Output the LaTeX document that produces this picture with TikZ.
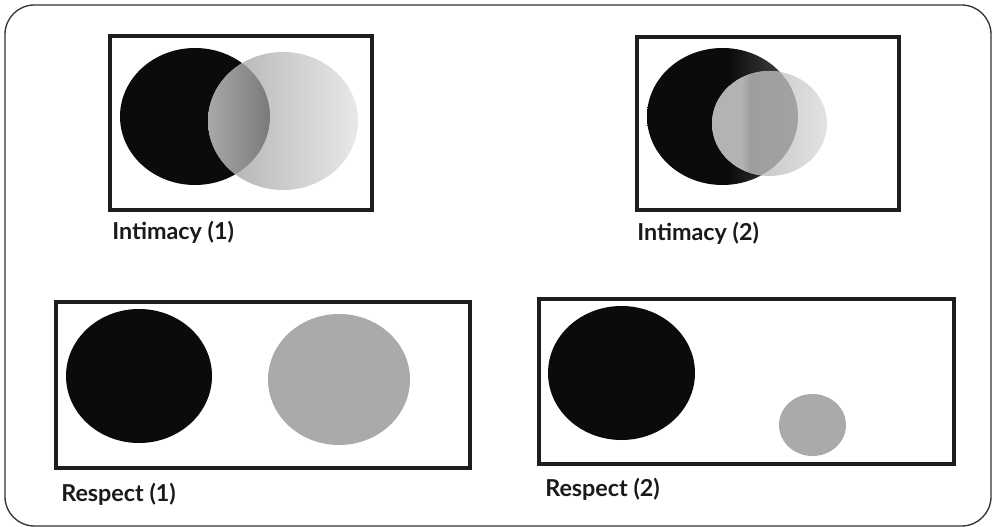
\documentclass[tikz,border=0pt]{standalone}
\usepackage{fontspec}
\setmainfont{Lato}
\definecolor{blk}{HTML}{0B0B0B}
\definecolor{blkend}{HTML}{505050}
\definecolor{boxc}{HTML}{1E1E1E}
\definecolor{outc}{HTML}{333333}
\definecolor{txt}{HTML}{1A1A1A}
\definecolor{flatgray}{HTML}{AAAAAA}
\definecolor{gA}{HTML}{AEAEAE}
\definecolor{gB}{HTML}{E8E8E8}
\definecolor{oA}{HTML}{A8A8A8}
\definecolor{oB}{HTML}{7A7A7A}
\definecolor{hA}{HTML}{B8B8B8}
\definecolor{hB}{HTML}{E2E2E2}
\definecolor{pA}{HTML}{B3B3B3}
\definecolor{pB}{HTML}{9E9E9E}
\definecolor{pC}{HTML}{A2A2A2}
\pgfdeclarehorizontalshading{blkfade}{100bp}{color(0bp)=(blk); color(52bp)=(blk); color(75bp)=(blkend); color(100bp)=(blkend)}
\pgfdeclarehorizontalshading{ovtwo}{100bp}{color(0bp)=(pA); color(25bp)=(pA); color(42bp)=(pA); color(47bp)=(pB); color(75bp)=(pC); color(100bp)=(pC)}
\begin{document}
\begin{tikzpicture}[x=0.75pt,y=-0.75pt,
  boxframe/.style={draw=boxc, line width=2.6pt},
  lbl/.style={anchor=base west, inner sep=0pt, text=txt, font=\bfseries\fontsize{17.5}{20}\selectfont}]
\useasboundingbox (0,0) rectangle (993,527);
\draw[draw=outc, line width=1pt, rounded corners=22pt] (5,5) rectangle (991,526);

% ---------- Intimacy (1)
\draw[boxframe] (110,36) rectangle (372,210);
\fill[blk] (195,116.5) ellipse [x radius=75, y radius=68.5];
\shade[left color=gA, right color=gB] (283,121) ellipse [x radius=75, y radius=69];
\begin{scope}
  \clip (195,116.5) ellipse [x radius=75, y radius=68.5];
  \clip (283,121) ellipse [x radius=75, y radius=69];
  \shade[left color=oA, right color=oB] (208,40) rectangle (270,200);
\end{scope}
\node[lbl] (l1) at (112,240) {Intimacy (1)};

% ---------- Intimacy (2)
\draw[boxframe] (637,37) rectangle (899,210);
\shade[shading=blkfade] (722.5,116.5) ellipse [x radius=75.5, y radius=68.5];
\shade[left color=hA, right color=hB] (769.5,123.5) ellipse [x radius=57.5, y radius=52.5];
\begin{scope}
  \clip (722.5,116.5) ellipse [x radius=75.5, y radius=68.5];
  \clip (769.5,123.5) ellipse [x radius=57.5, y radius=52.5];
  \shade[shading=ovtwo] (712,60) rectangle (798,190);
\end{scope}
\node[lbl] (l2) at (637,241) {Intimacy (2)};

% ---------- Respect (1)
\draw[boxframe] (56,302) rectangle (470,468);
\fill[blk] (139,376) ellipse [x radius=73, y radius=67];
\fill[flatgray] (339,379.5) ellipse [x radius=71, y radius=65.5];
\node[lbl] (l3) at (61,501) {Respect (1)};

% ---------- Respect (2)
\draw[boxframe] (539,299) rectangle (954,464);
\fill[blk] (621.5,373) ellipse [x radius=73.5, y radius=67];
\fill[flatgray] (812.5,425) ellipse [x radius=33.5, y radius=31];
\node[lbl] (l4) at (545,496) {Respect (2)};
\end{tikzpicture}
\end{document}
